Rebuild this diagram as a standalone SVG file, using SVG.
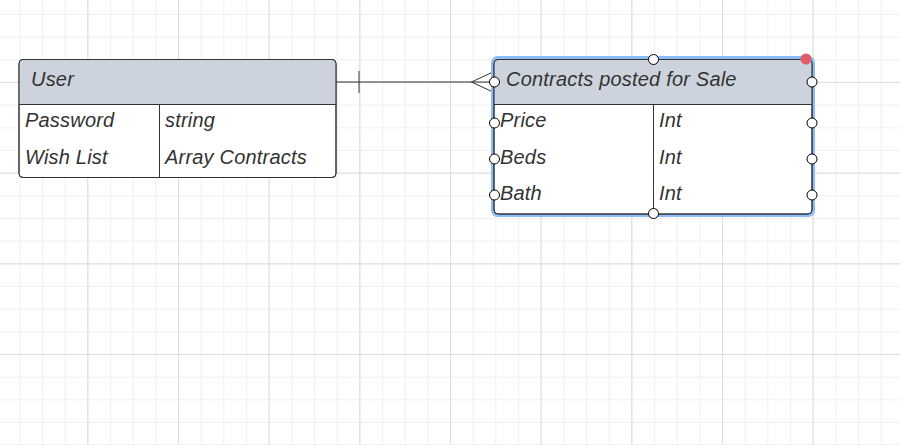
<svg xmlns="http://www.w3.org/2000/svg" width="900" height="445" viewBox="0 0 900 445">
<defs>
<pattern id="minor" x="-3.33" y="-8.67" width="22.667" height="22.667" patternUnits="userSpaceOnUse">
<path d="M0 0.5H22.667M0.5 0V22.667" fill="none" stroke="#efefef" stroke-width="1"/>
</pattern>
<pattern id="major" x="-3.33" y="-8.67" width="90.667" height="90.667" patternUnits="userSpaceOnUse">
<path d="M0 0.5H90.667M0.5 0V90.667" fill="none" stroke="#dcdcdc" stroke-width="1"/>
</pattern>
</defs>
<style>
.t{font-family:"Liberation Sans",Arial,sans-serif;font-style:italic;font-size:20px;fill:#333;letter-spacing:0.2px}
.box{fill:#fff;stroke:#333;stroke-width:1}
.hdr{fill:#cdd3dc}
.ln{stroke:#333;stroke-width:1;fill:none}
.h{fill:#fff;stroke:#000;stroke-width:1}
</style>
<rect width="900" height="445" fill="#fff"/>
<rect width="900" height="445" fill="url(#minor)"/>
<rect width="900" height="445" fill="url(#major)"/>
<g id="connectors">
<path class="ln" d="M336 82H494M359 71V93M494 71.5L471.5 82L494 92.5"/>
</g>
<g id="user">
<rect class="box" x="19" y="59.5" width="317" height="118" rx="4"/>
<path class="hdr" d="M23 60H332A3.5 3.5 0 0 1 335.5 63.5V104H19.5V63.5A3.5 3.5 0 0 1 23 60Z"/>
<rect x="19" y="59.5" width="317" height="118" rx="4" fill="none" stroke="#333"/>
<path class="ln" d="M19 104.5H336M159.5 104.5V177.5"/>
<text class="t" x="31" y="86">User</text>
<text class="t" x="25" y="127">Password</text>
<text class="t" x="25" y="164">Wish List</text>
<text class="t" x="165" y="127">string</text>
<text class="t" x="165" y="164">Array Contracts</text>
</g>
<g id="contracts">
<rect x="492.5" y="57.5" width="321" height="158" rx="5" fill="none" stroke="#8bbcf7" stroke-width="3"/>
<rect class="box" x="494" y="59.5" width="318" height="154.5" rx="4"/>
<path class="hdr" d="M498 60H808A3.5 3.5 0 0 1 811.5 63.5V104H494.5V63.5A3.5 3.5 0 0 1 498 60Z"/>
<rect x="494" y="59.5" width="318" height="154.5" rx="4" fill="none" stroke="#333"/>
<path class="ln" d="M494 104.5H812M653.5 104.5V214"/>
<text class="t" x="506" y="86">Contracts posted for Sale</text>
<text class="t" x="500" y="127">Price</text>
<text class="t" x="500" y="164">Beds</text>
<text class="t" x="500" y="200">Bath</text>
<text class="t" x="659" y="127">Int</text>
<text class="t" x="659" y="164">Int</text>
<text class="t" x="659" y="200">Int</text>
</g>
<g id="handles">
<circle class="h" cx="653.5" cy="59.5" r="5"/>
<circle class="h" cx="494.5" cy="82" r="5"/>
<circle class="h" cx="812" cy="82" r="5"/>
<circle class="h" cx="494.5" cy="123" r="5"/>
<circle class="h" cx="812" cy="123" r="5"/>
<circle class="h" cx="494.5" cy="159" r="5"/>
<circle class="h" cx="812" cy="159" r="5"/>
<circle class="h" cx="494.5" cy="195" r="5"/>
<circle class="h" cx="812" cy="195" r="5"/>
<circle class="h" cx="653.5" cy="213.5" r="5"/>
<circle cx="806" cy="59" r="5.5" fill="#e25b69"/>
</g>
</svg>
